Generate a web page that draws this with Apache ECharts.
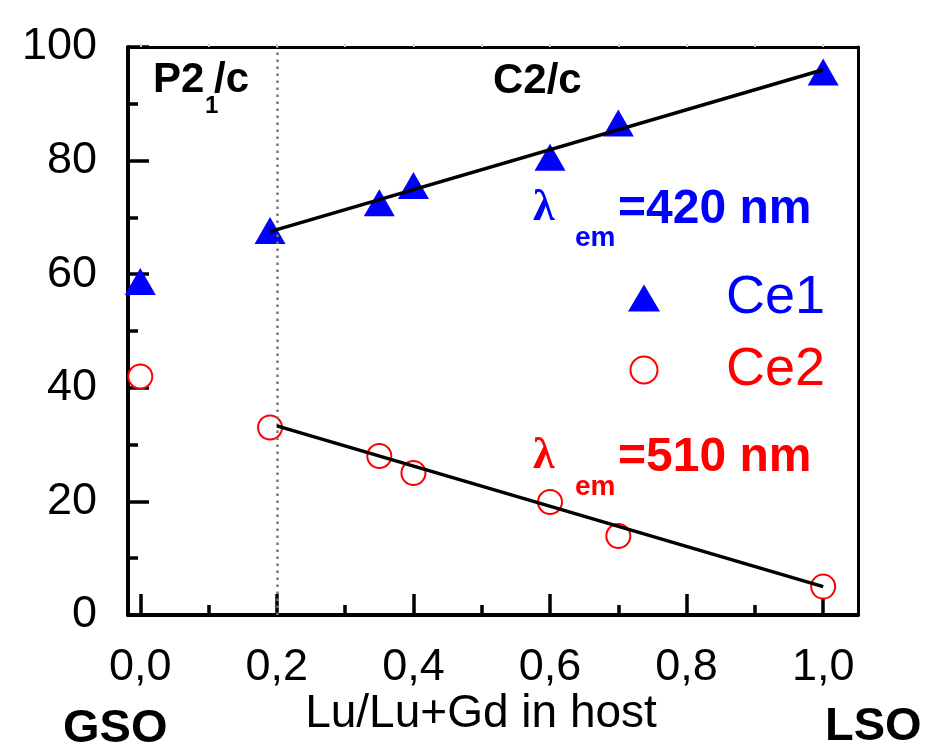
<!DOCTYPE html>
<html>
<head>
<meta charset="utf-8">
<script src="https://cdn.jsdelivr.net/npm/echarts@6/dist/echarts.min.js"></script>
<style>
html, body { margin: 0; padding: 0; background: #fff; }
#main { width: 927px; height: 751px; }
</style>
</head>
<body>
<div id="main"></div>
<script>
// values
var lu = [0, 0.19, 0.35, 0.40, 0.60, 0.70, 1.0];
var ce1 = [58.7, 67.7, 72.6, 75.6, 80.6, 86.6, 95.6];
var ce2 = [42.0, 33.0, 28.0, 25.0, 19.9, 13.9, 5.0];
var fitCe1 = [[0.19, 67.5], [1.0, 96.0]];
var fitCe2 = [[0.20, 33.3], [1.0, 5.0]];
var phaseBoundary = 0.2;
var xMajor = [0, 0.2, 0.4, 0.6, 0.8, 1.0];
var xMinor = [0.1, 0.3, 0.5, 0.7, 0.9];
var xTop = [0, 0.1, 0.2, 0.3, 0.4, 0.5, 0.6, 0.7, 0.8, 0.9, 1.0];
var xMin = -0.018, xMax = 1.051;

var FONT = 'Liberation Sans, Arial, sans-serif';
var SERIF = 'Liberation Serif, serif';
var BLUE = '#0000ff', RED = '#ff0000';

function pairs(xs, ys) {
  return xs.map(function (x, i) { return [x, ys[i]]; });
}

var Chart = echarts.init(document.getElementById('main'));

function txt(text, x, y, font, color) {
  return {
    type: 'text', x: x, y: y, silent: true,
    style: { text: text, font: font, fill: color || '#000', align: 'left', verticalAlign: 'middle' }
  };
}

var bottomAxisBase = {
  type: 'value', min: xMin, max: xMax, position: 'bottom',
  splitLine: { show: false }
};

var option = {
  backgroundColor: '#fff',
  animation: false,
  grid: { left: 128, right: 69, top: 47, bottom: 136, containLabel: false },
  xAxis: [
    Object.assign({}, bottomAxisBase, {
      axisLine: { onZero: false, lineStyle: { color: '#000', width: 4 } },
      axisTick: { inside: true, length: 21, lineStyle: { color: '#000', width: 3.5 }, customValues: xMajor },
      axisLabel: {
        margin: 30, fontSize: 45, color: '#000', fontFamily: FONT, customValues: xMajor,
        formatter: function (v) { return v.toFixed(1).replace('.', ','); }
      }
    }),
    Object.assign({}, bottomAxisBase, {
      axisLine: { show: false, onZero: false },
      axisTick: { inside: true, length: 10, lineStyle: { color: '#000', width: 3.5 }, customValues: xMinor },
      axisLabel: { show: false }
    }),
    {
      type: 'value', min: xMin, max: xMax, position: 'top',
      splitLine: { show: false },
      axisLine: { onZero: false, lineStyle: { color: '#000', width: 3 } },
      axisTick: { inside: false, length: 3, lineStyle: { color: '#cfcfcf', width: 2 }, customValues: xTop },
      axisLabel: { show: false }
    }
  ],
  yAxis: [
    {
      type: 'value', min: 0, max: 100, interval: 20, position: 'left',
      splitLine: { show: false },
      axisLine: { onZero: false, lineStyle: { color: '#000', width: 4 } },
      axisTick: { inside: true, length: 21, lineStyle: { color: '#000', width: 3.5 } },
      minorTick: { show: true, splitNumber: 2, length: 10, lineStyle: { color: '#000', width: 3.5 } },
      axisLabel: { margin: 31, fontSize: 45, color: '#000', fontFamily: FONT, padding: [6, 0, 0, 0] }
    },
    {
      type: 'value', min: 0, max: 100, position: 'right',
      splitLine: { show: false },
      axisLine: { onZero: false, lineStyle: { color: '#000', width: 3 } },
      axisTick: { show: false },
      axisLabel: { show: false }
    }
  ],
  legend: {
    orient: 'vertical', left: 628, top: 271, padding: 0,
    itemWidth: 32, itemHeight: 27, itemGap: 18,
    selectedMode: false,
    textStyle: { fontSize: 54, fontFamily: FONT, padding: [0, 0, 0, 61] },
    data: [
      { name: 'Ce1', textStyle: { color: BLUE } },
      { name: 'Ce2', textStyle: { color: RED } }
    ]
  },
  series: [
    {
      name: 'Ce1', type: 'scatter', data: pairs(lu, ce1),
      symbol: 'triangle', symbolSize: [31, 27],
      itemStyle: { color: BLUE, opacity: 1 },
      markLine: {
        silent: true, symbol: 'none', label: { show: false },
        lineStyle: { color: '#777', width: 2.5, type: [2.5, 4.5] },
        data: [{ xAxis: phaseBoundary }]
      }
    },
    {
      name: 'Ce2', type: 'scatter', data: pairs(lu, ce2),
      symbol: 'emptyCircle', symbolSize: 24,
      itemStyle: { color: RED, borderColor: RED, borderWidth: 2, opacity: 1 }
    },
    {
      name: 'fit1', type: 'line', data: fitCe1, symbol: 'none', z: 5, silent: true,
      lineStyle: { color: '#000', width: 3.5 }
    },
    {
      name: 'fit2', type: 'line', data: fitCe2, symbol: 'none', z: 5, silent: true,
      lineStyle: { color: '#000', width: 3.5 }
    }
  ],
  graphic: [
    txt('P2', 153, 80, 'bold 42px ' + FONT),
    txt('1', 205, 106, 'bold 24px ' + FONT),
    txt('/c', 214, 80, 'bold 42px ' + FONT),
    txt('C2/c', 493, 81, 'bold 42px ' + FONT),
    txt('\u03bb', 533, 209, 'bold 44px ' + SERIF, BLUE),
    txt('em', 575, 238, 'bold 28px ' + FONT, BLUE),
    txt('=420 nm', 618, 210, 'bold 48px ' + FONT, BLUE),
    txt('\u03bb', 533, 457, 'bold 44px ' + SERIF, RED),
    txt('em', 575, 487, 'bold 28px ' + FONT, RED),
    txt('=510 nm', 618, 458, 'bold 48px ' + FONT, RED),
    txt('GSO', 63, 729, 'bold 47px ' + FONT),
    txt('LSO', 825, 727, 'bold 47px ' + FONT),
    {
      type: 'text', x: 481, y: 714, silent: true,
      style: { text: 'Lu/Lu+Gd in host', font: '46px ' + FONT, fill: '#000', align: 'center', verticalAlign: 'middle' }
    }
  ]
};
Chart.setOption(option);
</script>
</body>
</html>
